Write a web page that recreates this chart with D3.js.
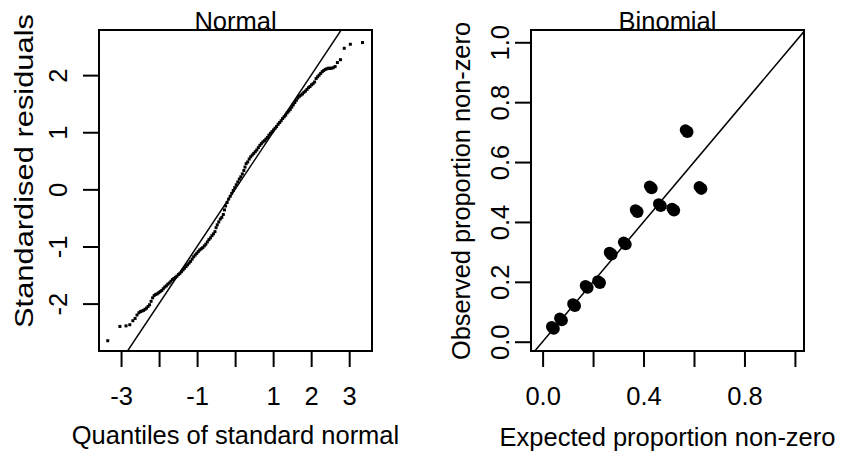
<!DOCTYPE html>
<html>
<head>
<meta charset="utf-8">
<script src="https://cdn.jsdelivr.net/npm/d3@7"></script>
<style>
  html, body { margin: 0; padding: 0; background: #fff; }
  svg { display: block; }
  text { font-family: "Liberation Sans", Arial, sans-serif; fill: #000; }
</style>
</head>
<body>
<svg id="chart" width="841" height="453"></svg>
<script>
// Normal Q-Q panel: theoretical quantiles and sorted standardised residuals
const normalTheoretical = [
  -3.35, -3.03, -2.87, -2.77, -2.69, -2.63, -2.58, -2.53, -2.49, -2.45,
  -2.41, -2.37, -2.33, -2.29, -2.25, -2.21, -2.17, -2.13, -2.09, -2.05,
  -2.01, -1.97, -1.93, -1.89, -1.85, -1.81, -1.77, -1.73, -1.69, -1.65,
  -1.61, -1.57, -1.53, -1.49, -1.45, -1.41, -1.37, -1.33, -1.29, -1.25,
  -1.21, -1.17, -1.13, -1.09, -1.05, -1.01, -0.97, -0.93, -0.89, -0.85,
  -0.81, -0.77, -0.73, -0.69, -0.65, -0.61, -0.57, -0.53, -0.50, -0.47,
  -0.43, -0.39, -0.35, -0.31, -0.28, -0.25, -0.21, -0.17, -0.13, -0.09,
  -0.05, -0.01, 0.03, 0.07, 0.11, 0.15, 0.19, 0.23, 0.26, 0.29,
  0.33, 0.37, 0.41, 0.45, 0.49, 0.53, 0.57, 0.61, 0.65, 0.69,
  0.73, 0.77, 0.81, 0.85, 0.89, 0.93, 0.97, 1.01, 1.05, 1.09,
  1.13, 1.17, 1.21, 1.25, 1.29, 1.33, 1.37, 1.41, 1.45, 1.49,
  1.53, 1.57, 1.61, 1.65, 1.69, 1.73, 1.77, 1.81, 1.85, 1.89,
  1.93, 1.97, 2.01, 2.05, 2.09, 2.13, 2.17, 2.21, 2.25, 2.29,
  2.33, 2.37, 2.41, 2.45, 2.49, 2.53, 2.58, 2.63, 2.69, 2.77,
  2.87, 3.03, 3.35
];
const normalResidual = [
  -2.65, -2.40, -2.39, -2.37, -2.30, -2.26, -2.20, -2.16, -2.14, -2.13,
  -2.12, -2.10, -2.08, -2.05, -2.02, -1.96, -1.90, -1.86, -1.84, -1.83,
  -1.81, -1.79, -1.77, -1.74, -1.71, -1.69, -1.66, -1.64, -1.61, -1.58,
  -1.56, -1.54, -1.52, -1.49, -1.47, -1.44, -1.41, -1.38, -1.35, -1.32,
  -1.29, -1.26, -1.22, -1.18, -1.15, -1.12, -1.09, -1.06, -1.04, -1.02,
  -0.99, -0.96, -0.92, -0.88, -0.85, -0.81, -0.78, -0.74, -0.67, -0.62,
  -0.57, -0.52, -0.49, -0.44, -0.36, -0.29, -0.23, -0.17, -0.12, -0.07,
  -0.02, 0.03, 0.08, 0.13, 0.18, 0.22, 0.27, 0.33, 0.39, 0.45,
  0.48, 0.53, 0.57, 0.60, 0.63, 0.66, 0.69, 0.73, 0.77, 0.80,
  0.83, 0.85, 0.88, 0.91, 0.95, 0.98, 1.01, 1.04, 1.07, 1.10,
  1.14, 1.17, 1.20, 1.24, 1.27, 1.30, 1.34, 1.37, 1.40, 1.44,
  1.48, 1.52, 1.56, 1.60, 1.63, 1.65, 1.67, 1.70, 1.72, 1.75,
  1.78, 1.80, 1.83, 1.85, 1.88, 1.94, 1.97, 2.00, 2.03, 2.06,
  2.08, 2.10, 2.11, 2.12, 2.12, 2.12, 2.13, 2.15, 2.22, 2.27,
  2.47, 2.54, 2.57
];
const normalXTicks = [-3, -2, -1, 0, 1, 2, 3];
const normalXTickLabels = ["-3", "", "-1", "", "1", "2", "3"];
const normalYTicks = [-2, -1, 0, 1, 2];
const normalYTickLabels = ["-2", "-1", "0", "1", "2"];

// Binomial panel: expected vs observed proportion of non-zero counts
const expectedProp = [0.040, 0.072, 0.124, 0.174, 0.223, 0.269, 0.325, 0.372, 0.428, 0.464, 0.517, 0.570, 0.625];
const observedProp = [0.047, 0.075, 0.123, 0.184, 0.200, 0.295, 0.329, 0.437, 0.516, 0.457, 0.442, 0.704, 0.514];
const binomTicks = [0, 0.2, 0.4, 0.6, 0.8, 1.0];
const binomXTickLabels = ["0.0", "", "0.4", "", "0.8", ""];
const binomYTickLabels = ["0.0", "0.2", "0.4", "0.6", "0.8", "1.0"];

const FONT = 25.5;
const svg = d3.select("#chart");

function panel(cfg) {
  const g = svg.append("g");
  const x = d3.scaleLinear().domain(cfg.xlim).range([cfg.left, cfg.right]);
  const y = d3.scaleLinear().domain(cfg.ylim).range([cfg.bottom, cfg.top]);
  const clipId = "clip-" + cfg.name;
  svg.append("clipPath").attr("id", clipId).append("rect")
    .attr("x", cfg.left).attr("y", cfg.top)
    .attr("width", cfg.right - cfg.left).attr("height", cfg.bottom - cfg.top);

  // title (sits right on top of the frame)
  g.append("text")
    .attr("x", (cfg.left + cfg.right) / 2).attr("y", cfg.top + cfg.titleDy)
    .attr("text-anchor", "middle").style("font-size", FONT + "px")
    .text(cfg.title);

  // bottom axis
  const xa = g.append("g").attr("transform", `translate(0,${cfg.bottom})`)
    .call(d3.axisBottom(x).tickValues(cfg.xTicks)
      .tickFormat((d, i) => cfg.xTickLabels[i])
      .tickSizeInner(16).tickSizeOuter(0).tickPadding(20));
  xa.select(".domain").remove();
  xa.selectAll("line").attr("stroke", "#000").attr("stroke-width", 2);
  xa.selectAll("text").style("font-size", FONT + "px");

  // left axis, labels parallel to the axis
  const ya = g.append("g").attr("transform", `translate(${cfg.left},0)`)
    .call(d3.axisLeft(y).tickValues(cfg.yTicks)
      .tickFormat((d, i) => cfg.yTickLabels[i])
      .tickSizeInner(16).tickSizeOuter(0));
  ya.select(".domain").remove();
  ya.selectAll("line").attr("stroke", "#000").attr("stroke-width", 2);
  ya.selectAll("text")
    .attr("x", null).attr("dy", null)
    .attr("text-anchor", "middle")
    .attr("transform", `translate(${-cfg.yLabelOffset},0) rotate(-90)`)
    .style("font-size", FONT + "px");
  svg.selectAll(".tick text").attr("font-family", null);
  svg.selectAll(".tick").attr("font-family", null);

  // axis titles
  g.append("text")
    .attr("x", (cfg.left + cfg.right) / 2).attr("y", cfg.xTitleY)
    .attr("text-anchor", "middle").style("font-size", FONT + "px")
    .text(cfg.xTitle);
  const yt = g.append("text")
    .attr("transform", `translate(${cfg.yTitleX},${cfg.yTitleCy}) rotate(-90)`)
    .attr("text-anchor", "middle").style("font-size", FONT + "px")
    .text(cfg.yTitle);
  if (cfg.yTitleLength) {
    yt.attr("textLength", cfg.yTitleLength).attr("lengthAdjust", "spacingAndGlyphs");
  }

  const plot = g.append("g").attr("clip-path", `url(#${clipId})`);
  return { g, plot, x, y, cfg };
}

function frame(p) {
  const c = p.cfg;
  p.g.append("rect")
    .attr("x", c.left).attr("y", c.top)
    .attr("width", c.right - c.left).attr("height", c.bottom - c.top)
    .attr("fill", "none").attr("stroke", "#000").attr("stroke-width", 2);
}

// ---- Normal Q-Q panel ----
const pn = panel({
  name: "normal", title: "Normal", titleDy: 0,
  left: 99, right: 372, top: 30, bottom: 351,
  xlim: [-3.58, 3.60], ylim: [-2.83, 2.79],
  xTicks: normalXTicks, xTickLabels: normalXTickLabels,
  yTicks: normalYTicks, yTickLabels: normalYTickLabels,
  yLabelOffset: 32,
  xTitle: "Quantiles of standard normal", xTitleY: 444,
  yTitle: "Standardised residuals", yTitleX: 33, yTitleCy: 171, yTitleLength: 314
});

// reference line y = x
const lineExtent = [-4, 4];
pn.plot.append("line")
  .attr("x1", pn.x(lineExtent[0])).attr("y1", pn.y(lineExtent[0]))
  .attr("x2", pn.x(lineExtent[1])).attr("y2", pn.y(lineExtent[1]))
  .attr("stroke", "#000").attr("stroke-width", 1.5);

const dotSize = 3;
pn.plot.selectAll("rect.qq")
  .data(normalTheoretical.map((q, i) => [q, normalResidual[i]]))
  .join("rect").attr("class", "qq")
  .attr("x", d => pn.x(d[0]) - dotSize / 2)
  .attr("y", d => pn.y(d[1]) - dotSize / 2)
  .attr("width", dotSize).attr("height", dotSize)
  .attr("fill", "#000");
frame(pn);

// ---- Binomial panel ----
const pb = panel({
  name: "binom", title: "Binomial", titleDy: 0,
  left: 531, right: 804, top: 30, bottom: 351,
  xlim: [-0.046, 1.036], ylim: [-0.031, 1.041],
  xTicks: binomTicks, xTickLabels: binomXTickLabels,
  yTicks: binomTicks, yTickLabels: binomYTickLabels,
  yLabelOffset: 22.5,
  xTitle: "Expected proportion non-zero", xTitleY: 446,
  yTitle: "Observed proportion non-zero", yTitleX: 470, yTitleCy: 191, yTitleLength: 338
});

pb.plot.append("line")
  .attr("x1", pb.x(-0.1)).attr("y1", pb.y(-0.1))
  .attr("x2", pb.x(1.1)).attr("y2", pb.y(1.1))
  .attr("stroke", "#000").attr("stroke-width", 1.5);

const binomPts = expectedProp.map((e, i) => [e, observedProp[i]]);
const pts = pb.plot.selectAll("g.pt").data(binomPts).join("g").attr("class", "pt")
  .attr("transform", d => `translate(${pb.x(d[0])},${pb.y(d[1])})`);
pts.append("circle").attr("cx", 1).attr("cy", 1).attr("r", 6.1).attr("fill", "#000");
pts.append("circle").attr("cx", -1).attr("cy", -1).attr("r", 5.7).attr("fill", "#000");
frame(pb);
</script>
</body>
</html>
